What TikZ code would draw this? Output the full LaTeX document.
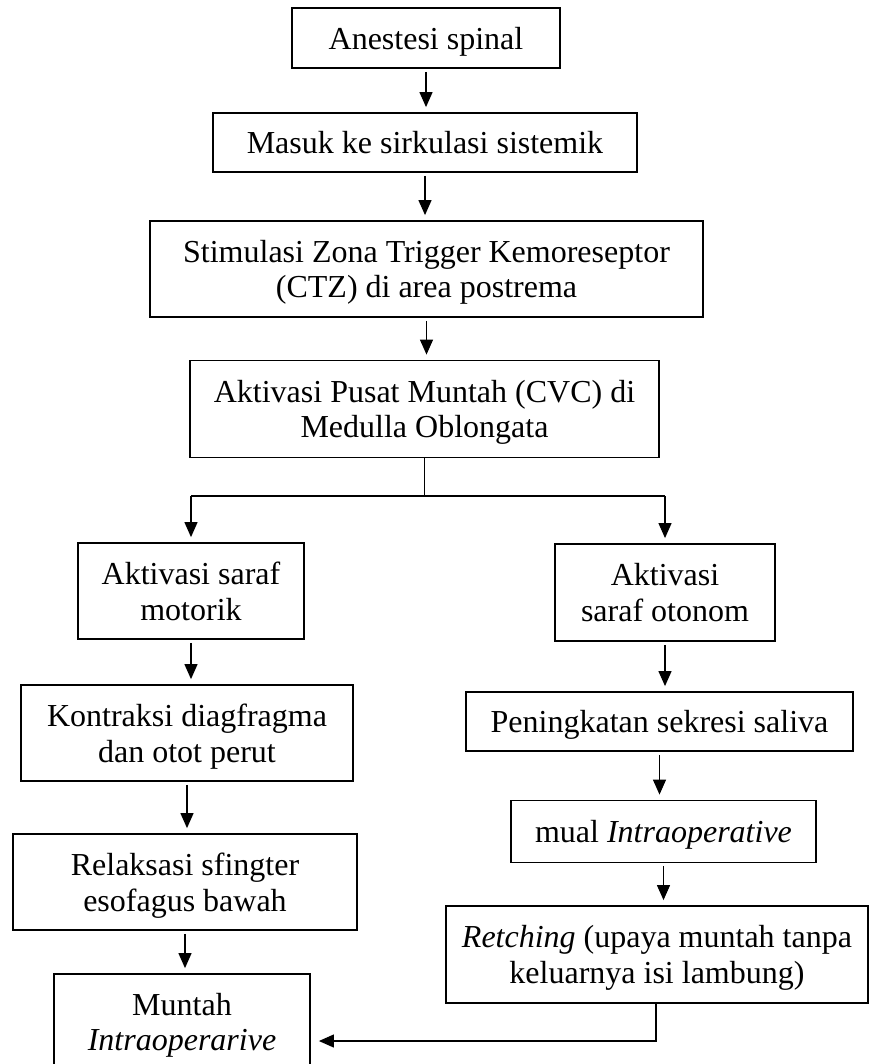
\documentclass[tikz,border=0pt]{standalone}
\usepackage{fontspec}
\setmainfont{Liberation Serif}
\usetikzlibrary{arrows.meta}
\begin{document}
\begin{tikzpicture}[x=1pt,y=-1pt,
  box/.style={draw=black,line width=1.8pt,rectangle,inner sep=0pt,align=center,text depth=0pt,
    font=\fontsize{32}{35.5}\selectfont},
  arr/.style={line width=1.2pt,-{Triangle[length=15pt,width=13pt]},shorten <=3pt,shorten >=5pt},
  ln/.style={line width=1.2pt}]
\useasboundingbox[fill=white] (0,0) rectangle (869,1064);
\node[box,minimum width=268pt,minimum height=60pt] (A) at (426,38) {Anestesi spinal};
\node[box,minimum width=424pt,minimum height=59pt] (B) at (425,142.5) {Masuk ke sirkulasi sistemik};
\node[box,minimum width=553pt,minimum height=96pt] (C) at (426.5,269) {Stimulasi Zona Trigger Kemoreseptor\\(CTZ) di area postrema};
\node[box,minimum width=469pt,minimum height=97pt] (D) at (424.5,409) {Aktivasi Pusat Muntah (CVC) di\\Medulla Oblongata};
\node[box,minimum width=226pt,minimum height=96pt] (E) at (191,591) {Aktivasi saraf\\motorik};
\node[box,minimum width=220pt,minimum height=97pt] (F) at (665,592.5) {Aktivasi\\saraf otonom};
\node[box,minimum width=332pt,minimum height=96pt] (G) at (187,733) {Kontraksi diagfragma\\dan otot perut};
\node[box,minimum width=387pt,minimum height=59pt] (H) at (659.5,721.5) {Peningkatan sekresi saliva};
\node[box,minimum width=305pt,minimum height=62pt] (I) at (663.5,831.5) {mual \textit{Intraoperative}};
\node[box,minimum width=344pt,minimum height=96pt] (J) at (185,882) {Relaksasi sfingter\\esofagus bawah};
\node[box,minimum width=422pt,minimum height=97pt] (K) at (657,954.5) {\textit{Retching} (upaya muntah tanpa\\keluarnya isi lambung)};
\node[box,minimum width=256pt,minimum height=96pt] (L) at (182,1022) {Muntah\\\textit{Intraoperarive}};
\coordinate (sl) at (191,496);
\coordinate (sr) at (665,496);
\coordinate (kc) at (656,1041);
\draw[arr] (A) -- (A |- B.north);
\draw[arr] (B) -- (B |- C.north);
\draw[arr] (C) -- (C |- D.north);
\draw[ln] (D.south) -- (D.south |- sl);
\draw[ln] (sl) -- (sr);
\draw[arr,shorten <=0pt] (sl) -- (E.north);
\draw[arr,shorten <=0pt] (sr) -- (F.north);
\draw[arr] (E) -- (E |- G.north);
\draw[arr] (F) -- (F |- H.north);
\draw[arr] (G) -- (G |- J.north);
\draw[arr] (H) -- (H |- I.north);
\draw[arr] (I) -- (I |- K.north);
\draw[arr] (J) -- (J |- L.north);
\draw[arr,shorten <=0pt,shorten >=8pt] (K.south -| kc) -- (kc) -- (kc -| L.east);
\end{tikzpicture}
\end{document}
